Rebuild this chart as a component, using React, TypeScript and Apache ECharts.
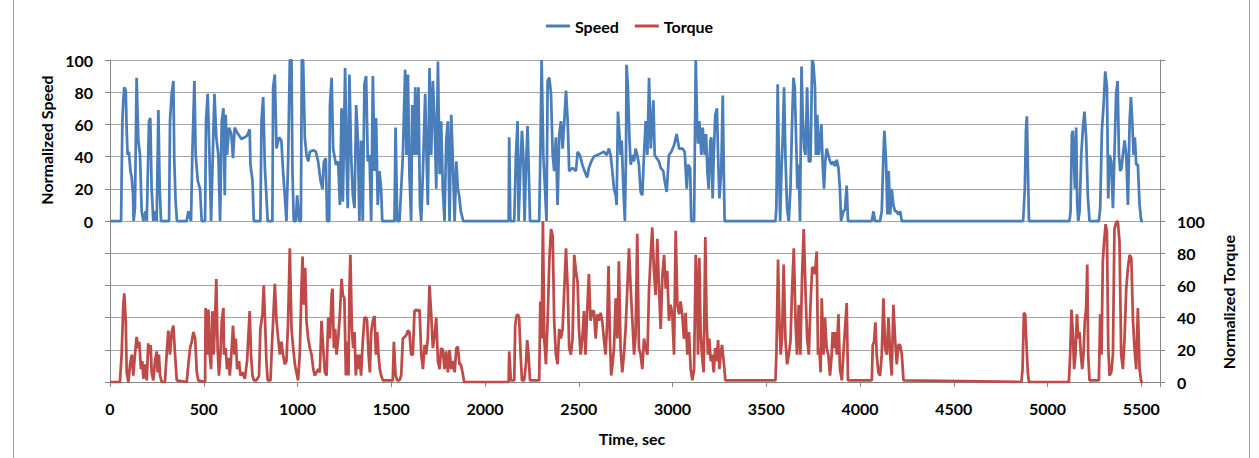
import React, { useEffect, useRef } from "react";
import * as echarts from "echarts";

// Time (sec) and normalized speed (%)
const speedPoints: [number, number][] = [
  [0, 0], [59, 0], [66, 62], [71, 75], [76, 83], [84, 81], [89, 56], [94, 41], [101, 43], [109, 31], [116, 27], [123, 16], [126, 0], [133, 8], [142, 89], [151, 50], [160, 41], [169, 6], [178, 0], [190, 6], [196, 0], [208, 62], [215, 64], [222, 20], [231, 0], [240, 6], [249, 0], [258, 69], [265, 20], [272, 0], [315, 0], [320, 62], [329, 79], [338, 87], [343, 37], [350, 12], [357, 0], [409, 0], [418, 6], [432, 0], [439, 41], [450, 87], [457, 41], [468, 25], [480, 20], [489, 0], [507, 0], [512, 62], [521, 79], [528, 52], [539, 0], [546, 31], [557, 79], [567, 52], [578, 41], [587, 0], [596, 62], [605, 70],
  [612, 16], [617, 66], [624, 41], [635, 58], [647, 54], [656, 39], [665, 58], [683, 54], [701, 51], [719, 52], [731, 53], [745, 57], [749, 35], [760, 25], [767, 0], [802, 0], [808, 62], [817, 77], [826, 33], [834, 16], [841, 0], [866, 0], [870, 83], [879, 91], [888, 45], [902, 52], [914, 50], [923, 31], [932, 16], [941, 0], [950, 37], [959, 100], [968, 100], [973, 31], [980, 0], [991, 0], [998, 16], [1009, 0], [1018, 0], [1023, 100], [1030, 100], [1039, 52], [1048, 41], [1057, 37], [1066, 43], [1084, 44], [1098, 43], [1110, 37], [1123, 25], [1133, 20], [1141, 37], [1151, 39], [1158, 0], [1169, 0], [1173, 72], [1182, 89], [1190, 45], [1205, 35], [1217, 37], [1226, 10], [1235, 70],
  [1242, 12], [1254, 95], [1261, 41], [1268, 8], [1277, 91], [1286, 41], [1295, 16], [1304, 8], [1313, 72], [1322, 50], [1330, 0], [1339, 50], [1348, 0], [1357, 85], [1366, 90], [1375, 37], [1384, 41], [1393, 0], [1402, 90], [1411, 31], [1419, 64], [1428, 10], [1437, 31], [1446, 20], [1452, 0], [1517, 0], [1523, 58], [1532, 0], [1544, 0], [1553, 20], [1562, 41], [1574, 94], [1581, 41], [1589, 91], [1597, 29], [1606, 0], [1612, 72], [1621, 41], [1628, 83], [1635, 41], [1645, 83], [1653, 10], [1660, 0], [1669, 31], [1681, 79], [1688, 41], [1695, 10], [1704, 95], [1713, 41], [1722, 87], [1731, 62], [1740, 20], [1749, 99], [1758, 29], [1766, 62], [1775, 20], [1784, 0], [1793, 50], [1802, 62], [1811, 0], [1820, 66], [1829, 35], [1838, 0], [1847, 37], [1855, 20],
  [1862, 16], [1871, 6], [1884, 0], [2126, 0], [2129, 52], [2135, 0], [2156, 0], [2165, 41], [2174, 62], [2179, 0], [2188, 31], [2197, 56], [2204, 41], [2211, 0], [2218, 31], [2227, 59], [2236, 20], [2240, 0], [2289, 0], [2295, 41], [2302, 100], [2311, 41], [2320, 20], [2328, 0], [2334, 87], [2343, 89], [2352, 79], [2361, 41], [2369, 31], [2378, 52], [2387, 10], [2396, 54], [2405, 62], [2414, 45], [2423, 62], [2432, 81], [2441, 62], [2449, 31], [2467, 33], [2485, 31], [2494, 43],
  [2506, 41], [2519, 35], [2531, 31], [2545, 27], [2554, 33], [2567, 37], [2581, 40], [2599, 41], [2617, 42], [2634, 43], [2649, 41], [2661, 45], [2670, 41], [2679, 31], [2688, 20], [2697, 16], [2702, 10], [2709, 68], [2718, 52], [2723, 41], [2729, 50], [2738, 20], [2746, 0], [2752, 41], [2755, 97], [2762, 83], [2770, 52], [2777, 35], [2786, 41], [2795, 37], [2803, 45], [2812, 41], [2821, 35], [2830, 18], [2839, 16], [2848, 41], [2857, 62], [2866, 41], [2875, 89], [2884, 45], [2898, 75], [2905, 41], [2916, 39], [2928, 37], [2937, 33], [2951, 31], [2958, 25], [2969, 18], [2981, 41], [2994, 43], [3008, 47], [3022, 54], [3035, 45], [3053, 45], [3065, 43], [3076, 20], [3083, 35], [3094, 33], [3100, 0], [3115, 0], [3124, 100],
  [3131, 62], [3136, 48], [3143, 62], [3154, 41], [3161, 58], [3172, 41], [3179, 54], [3186, 31], [3193, 20], [3202, 50], [3207, 52], [3214, 14], [3220, 41], [3228, 66], [3237, 70], [3243, 41], [3250, 14], [3260, 31], [3268, 78], [3275, 20], [3278, 0], [3549, 0], [3554, 8], [3561, 85], [3567, 41], [3574, 0], [3581, 31], [3588, 52], [3595, 83], [3602, 41], [3611, 8], [3620, 0], [3629, 20], [3638, 62], [3645, 89], [3652, 83], [3659, 52], [3666, 20], [3673, 35], [3680, 0], [3688, 96], [3695, 62], [3702, 45], [3709, 41], [3718, 83], [3727, 37], [3736, 37], [3745, 100],
  [3751, 98], [3760, 83], [3765, 41], [3772, 66], [3780, 41], [3787, 48], [3794, 60], [3801, 35], [3808, 20], [3815, 37], [3822, 45], [3831, 41], [3840, 37], [3849, 35], [3858, 37], [3867, 34], [3876, 38], [3885, 33], [3893, 20], [3899, 0], [3911, 6], [3920, 7], [3929, 22], [3936, 0], [4063, 0], [4072, 6], [4080, 0], [4107, 0], [4116, 6], [4125, 41], [4130, 56], [4139, 37], [4146, 4], [4153, 31], [4161, 4], [4169, 20], [4178, 10], [4187, 6], [4196, 6], [4205, 4], [4214, 6], [4223, 0],
  [4870, 0], [4879, 20], [4885, 56], [4890, 65], [4895, 35], [4901, 0],
  [5117, 0], [5123, 6], [5130, 54], [5135, 56], [5140, 41], [5146, 20], [5153, 58], [5158, 12], [5164, 0], [5171, 6], [5180, 41], [5189, 58], [5197, 68], [5206, 52], [5215, 16], [5224, 0], [5274, 0], [5281, 8], [5290, 56], [5299, 72], [5308, 93], [5317, 83], [5324, 14], [5331, 41], [5340, 37], [5349, 8], [5357, 41], [5366, 79], [5374, 87], [5381, 41], [5388, 31], [5395, 33], [5402, 41], [5411, 50], [5420, 41], [5429, 10], [5438, 62], [5445, 77], [5452, 62], [5459, 41], [5466, 52], [5473, 35], [5482, 35], [5491, 10], [5500, 0], [5509, 0],
];

// Time (sec) and normalized torque (%)
const torquePoints: [number, number][] = [
  [0, 0], [53, 0], [62, 17], [71, 48], [76, 55], [84, 38], [89, 6], [98, 0], [107, 11], [116, 17], [124, 4], [133, 17], [142, 28], [151, 21], [156, 25], [165, 8], [172, 13], [178, 2], [187, 11], [196, 1], [204, 24], [211, 17], [217, 23], [222, 6], [231, 1], [240, 13], [249, 19], [254, 6], [261, 17], [267, 4], [276, 0], [293, 0], [302, 17], [311, 32], [320, 17], [329, 31], [338, 35], [347, 17], [356, 1], [409, 0], [418, 11], [427, 21], [436, 25], [445, 31], [454, 27], [463, 6], [471, 1], [507, 0], [510, 46], [517, 17], [525, 45], [532, 17], [539, 8], [546, 44], [553, 17], [560, 38], [567, 64], [574, 21], [581, 4], [589, 17], [596, 38], [605, 46],
  [608, 17], [617, 21], [624, 8], [631, 15], [639, 4], [647, 17], [656, 35], [664, 17], [671, 27], [678, 8], [688, 13], [696, 4], [706, 6], [719, 2], [731, 13], [745, 44], [752, 17], [760, 4], [767, 1], [781, 1], [795, 4], [802, 33], [813, 42], [820, 60], [827, 38], [834, 13], [841, 1], [856, 1], [863, 21], [870, 38], [879, 61], [888, 38], [897, 27], [906, 17], [914, 25], [923, 17], [932, 11], [941, 13], [950, 38], [959, 83], [968, 33], [977, 21], [986, 11], [994, 6], [1003, 1], [1012, 17], [1021, 58], [1027, 78], [1034, 48], [1041, 71], [1048, 38], [1057, 27], [1066, 21], [1075, 17], [1084, 8], [1092, 4], [1101, 6], [1110, 8], [1119, 6], [1128, 38], [1137, 21], [1146, 6], [1155, 4], [1164, 40], [1173, 27], [1182, 54], [1187, 58], [1194, 21], [1201, 33], [1208, 17], [1217, 27], [1226, 42], [1235, 64],
  [1242, 54], [1250, 52], [1258, 4], [1265, 25], [1272, 4], [1277, 58], [1282, 79], [1290, 33], [1297, 21], [1304, 31], [1311, 4], [1318, 17], [1325, 8], [1332, 17], [1339, 4], [1348, 25], [1357, 40], [1366, 40], [1371, 38], [1379, 17], [1386, 6], [1393, 31], [1402, 38], [1411, 41], [1418, 17], [1425, 31], [1432, 17], [1439, 8], [1446, 4], [1455, 1], [1508, 1], [1514, 25], [1523, 4], [1532, 1], [1544, 1], [1553, 4], [1562, 27], [1571, 28], [1580, 29], [1589, 32], [1597, 31], [1606, 17], [1615, 17], [1624, 44], [1633, 45], [1642, 44], [1651, 45], [1660, 17], [1669, 8], [1678, 23], [1686, 17], [1695, 27], [1704, 60], [1713, 42], [1722, 21], [1731, 29], [1740, 40], [1749, 13], [1758, 8], [1766, 21], [1775, 20], [1784, 8], [1793, 19], [1802, 6], [1811, 20], [1820, 8], [1829, 13], [1838, 6], [1847, 21], [1855, 22], [1864, 11],
  [1871, 11], [1880, 6], [1889, 0], [2126, 0], [2129, 19], [2138, 1], [2156, 1], [2161, 35], [2168, 41], [2175, 42], [2182, 40], [2190, 17], [2197, 1], [2209, 1], [2218, 11], [2225, 26], [2232, 17], [2240, 1], [2289, 1], [2295, 50], [2302, 27], [2309, 100], [2316, 27], [2325, 11], [2334, 38], [2343, 75], [2352, 95], [2361, 91], [2369, 38], [2378, 17], [2387, 11], [2396, 33], [2405, 27], [2414, 33], [2423, 58], [2432, 83], [2441, 58], [2449, 21], [2458, 17], [2467, 27], [2476, 79], [2485, 69], [2494, 62],
  [2501, 33], [2510, 17], [2519, 27], [2528, 44], [2536, 17], [2545, 44], [2554, 67], [2563, 38], [2572, 44], [2581, 44], [2590, 27], [2599, 42], [2608, 38], [2617, 43], [2625, 38], [2634, 27], [2643, 17], [2652, 38], [2659, 72], [2666, 27], [2673, 4], [2680, 11], [2688, 21], [2697, 52], [2706, 27], [2714, 75], [2723, 21], [2732, 6], [2741, 17], [2750, 33], [2759, 58], [2768, 83], [2777, 58], [2786, 38], [2795, 17], [2803, 29], [2812, 92], [2821, 21], [2830, 17], [2839, 8], [2848, 27], [2857, 21], [2866, 17], [2875, 58], [2884, 79], [2892, 96], [2901, 69], [2910, 54], [2919, 89], [2928, 58], [2937, 33], [2946, 66], [2955, 79], [2964, 58], [2972, 69], [2981, 38], [2990, 48], [2999, 42], [3008, 17], [3017, 94], [3026, 48], [3035, 42], [3043, 50], [3052, 42], [3061, 27], [3070, 43], [3079, 17], [3088, 31], [3097, 8], [3106, 1], [3115, 8], [3124, 79],
  [3131, 58], [3136, 17], [3143, 77], [3150, 31], [3157, 17], [3166, 6], [3175, 90], [3182, 38], [3189, 17], [3196, 27], [3204, 13], [3211, 17], [3220, 6], [3228, 21], [3235, 13], [3243, 26], [3250, 8], [3257, 17], [3264, 23], [3273, 13], [3282, 1], [3549, 1], [3554, 17], [3563, 76], [3570, 38], [3577, 17], [3584, 27], [3593, 73], [3602, 27], [3611, 11], [3620, 17], [3629, 25], [3638, 58], [3647, 83], [3656, 38], [3664, 17], [3673, 48], [3682, 17], [3691, 66], [3700, 95], [3709, 58], [3718, 27], [3727, 17], [3736, 48], [3745, 71],
  [3751, 71], [3760, 67], [3769, 81], [3776, 17], [3783, 21], [3790, 6], [3796, 52], [3805, 17], [3813, 40], [3822, 21], [3831, 17], [3840, 4], [3849, 17], [3854, 31], [3862, 21], [3869, 31], [3876, 17], [3885, 42], [3893, 8], [3903, 1], [3911, 17], [3920, 33], [3929, 49], [3936, 1], [4063, 1], [4068, 23], [4075, 25], [4082, 37], [4089, 17], [4098, 6], [4107, 4], [4116, 17], [4125, 52], [4134, 21], [4143, 17], [4152, 40], [4161, 17], [4169, 4], [4178, 48], [4187, 27], [4196, 11], [4205, 23], [4214, 23], [4223, 17], [4232, 1],
  [4861, 0], [4867, 8], [4874, 43], [4881, 42], [4888, 23], [4895, 6], [4901, 0],
  [5114, 0], [5121, 17], [5128, 45], [5135, 31], [5142, 8], [5149, 17], [5157, 42], [5164, 27], [5171, 31], [5178, 17], [5185, 8], [5192, 17], [5199, 38], [5206, 46], [5212, 73], [5217, 17], [5224, 1], [5274, 1], [5281, 42], [5288, 17], [5295, 75], [5302, 87], [5310, 98], [5317, 93], [5324, 21], [5331, 4], [5340, 6], [5349, 17], [5357, 95], [5366, 99], [5375, 100], [5384, 87], [5393, 17], [5402, 8], [5411, 27], [5420, 58], [5429, 71], [5438, 79], [5447, 77], [5456, 38], [5464, 21], [5473, 8], [5482, 46], [5491, 8], [5500, 0], [5509, 0],
];

const seriesNames = ["Speed", "Torque"];
const seriesColors = ["#4A7EBB", "#BE4B48"];
const xAxisTitle = "Time, sec";
const leftAxisTitle = "Normalized Speed";
const rightAxisTitle = "Normalized Torque";

const FONT = "Lato, 'Open Sans', sans-serif";
const AXIS_GRAY = "#868686";
const GRID_GRAY = "#A6A6A6";

export default function App() {
  const ref = useRef<HTMLDivElement>(null);

  useEffect(() => {
    document.body.style.margin = "0";
    const chart = echarts.init(ref.current!, null, { renderer: "svg" });
    const labelStyle = { color: "#000", fontFamily: FONT, fontWeight: "bold", fontSize: 16 };
    chart.setOption({
      animation: false,
      backgroundColor: "#fff",
      textStyle: { fontFamily: FONT },
      legend: {
        top: 13,
        left: "center",
        icon: "rect",
        itemWidth: 24,
        itemHeight: 3,
        itemGap: 16,
        textStyle: { ...labelStyle, fontSize: 16 },
        data: seriesNames,
      },
      grid: { left: 110, right: 99, top: 60, bottom: 76 },
      xAxis: {
        type: "value",
        min: 0,
        max: 5600,
        interval: 500,
        splitLine: { show: false },
        axisLine: { show: true, onZero: false, lineStyle: { color: AXIS_GRAY, width: 1 } },
        axisTick: { show: true, length: 5, lineStyle: { color: AXIS_GRAY } },
        axisLabel: {
          ...labelStyle,
          margin: 18,
          formatter: (v: number) => (v > 5500 ? "" : String(v)),
        },
      },
      yAxis: [
        {
          type: "value",
          min: -100,
          max: 100,
          interval: 20,
          position: "left",
          axisLine: { show: true, onZero: false, lineStyle: { color: AXIS_GRAY, width: 1 } },
          axisTick: { show: true, length: 5, lineStyle: { color: AXIS_GRAY } },
          splitLine: { show: true, lineStyle: { color: GRID_GRAY, width: 1 } },
          axisLabel: {
            ...labelStyle,
            margin: 17,
            formatter: (v: number) => (v >= 0 ? String(v) : ""),
          },
        },
        {
          type: "value",
          min: 0,
          max: 200,
          interval: 20,
          position: "right",
          axisLine: { show: true, onZero: false, lineStyle: { color: AXIS_GRAY, width: 1 } },
          axisTick: { show: true, length: 5, lineStyle: { color: AXIS_GRAY } },
          splitLine: { show: false },
          axisLabel: {
            ...labelStyle,
            margin: 17,
            formatter: (v: number) => (v <= 100 ? String(v) : ""),
          },
        },
      ],
      graphic: [
        {
          type: "text",
          x: 46,
          y: 140,
          rotation: Math.PI / 2,
          style: {
            text: leftAxisTitle,
            fill: "#000",
            font: `bold 16px ${FONT}`,
            textAlign: "center",
            textVerticalAlign: "middle",
          },
        },
        {
          type: "text",
          x: 1228,
          y: 302,
          rotation: Math.PI / 2,
          style: {
            text: rightAxisTitle,
            fill: "#000",
            font: `bold 16px ${FONT}`,
            textAlign: "center",
            textVerticalAlign: "middle",
          },
        },
        {
          type: "text",
          x: 632,
          y: 438,
          style: {
            text: xAxisTitle,
            fill: "#000",
            font: `bold 16px ${FONT}`,
            textAlign: "center",
            textVerticalAlign: "middle",
          },
        },
        {
          type: "line",
          shape: { x1: 13.5, y1: 0, x2: 13.5, y2: 458 },
          style: { stroke: "#A0A0A0", lineWidth: 1 },
        },
        {
          type: "line",
          shape: { x1: 1249.5, y1: 0, x2: 1249.5, y2: 458 },
          style: { stroke: "#A0A0A0", lineWidth: 1 },
        },
      ],
      series: [
        {
          name: seriesNames[0],
          type: "line",
          yAxisIndex: 0,
          data: speedPoints,
          symbol: "none",
          color: seriesColors[0],
          lineStyle: { color: seriesColors[0], width: 2.75 },
        },
        {
          name: seriesNames[1],
          type: "line",
          yAxisIndex: 1,
          data: torquePoints,
          symbol: "none",
          color: seriesColors[1],
          lineStyle: { color: seriesColors[1], width: 2.75 },
        },
      ],
    });
    return () => chart.dispose();
  }, []);

  return <div ref={ref} style={{ width: 1259, height: 458 }} />;
}
